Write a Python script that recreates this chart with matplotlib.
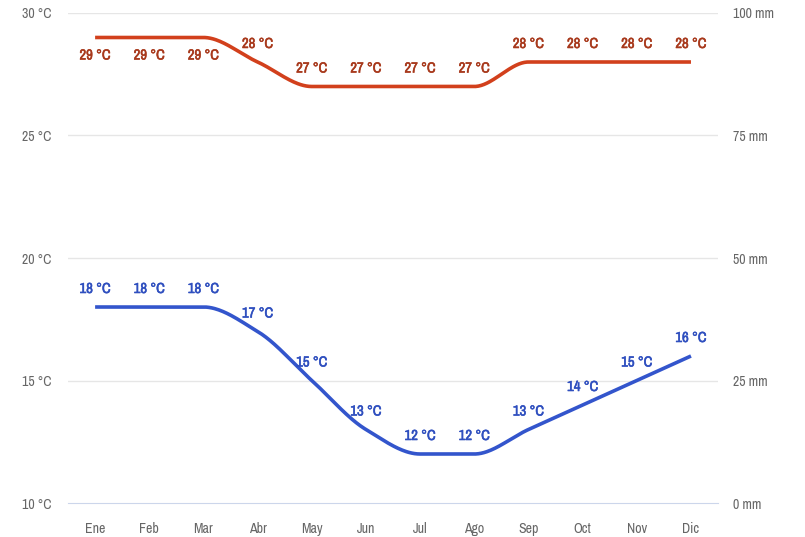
import matplotlib.pyplot as plt
import matplotlib.patheffects as pe
import numpy as np
from matplotlib import font_manager

months = ['Ene', 'Feb', 'Mar', 'Abr', 'May', 'Jun', 'Jul', 'Ago', 'Sep', 'Oct', 'Nov', 'Dic']
t_max = [29, 29, 29, 28, 27, 27, 27, 27, 28, 28, 28, 28]
t_min = [18, 18, 18, 17, 15, 13, 12, 12, 13, 14, 15, 16]
temp_ticks = [10, 15, 20, 25, 30]
rain_ticks = [0, 25, 50, 75, 100]

names = sorted({f.name for f in font_manager.fontManager.ttflist})
narrow = [n for n in names if 'Narrow' in n or 'Condensed' in n]
fam = narrow[0] if narrow else 'DejaVu Sans'
plt.rcParams['font.family'] = [fam, 'DejaVu Sans']
plt.rcParams['font.stretch'] = 'condensed'


def pchip(x, y, n=40):
    # monotone cubic curve through the points (Fritsch-Carlson)
    x = np.asarray(x, float)
    y = np.asarray(y, float)
    h = np.diff(x)
    d = np.diff(y) / h
    m = np.zeros_like(y)
    m[0], m[-1] = d[0], d[-1]
    for k in range(1, len(y) - 1):
        if d[k - 1] * d[k] > 0:
            w1 = 2 * h[k] + h[k - 1]
            w2 = h[k] + 2 * h[k - 1]
            m[k] = (w1 + w2) / (w1 / d[k - 1] + w2 / d[k])
    xs, ys = [], []
    for k in range(len(x) - 1):
        t = np.linspace(0, 1, n)
        h00 = 2 * t**3 - 3 * t**2 + 1
        h10 = t**3 - 2 * t**2 + t
        h01 = -2 * t**3 + 3 * t**2
        h11 = t**3 - t**2
        xs.append(x[k] + t * h[k])
        ys.append(h00 * y[k] + h10 * h[k] * m[k] + h01 * y[k + 1] + h11 * h[k] * m[k + 1])
    return np.concatenate(xs), np.concatenate(ys)


fig = plt.figure(figsize=(8.05, 5.37), dpi=100)
ax = fig.add_axes([0.0845, 0.0633, 0.8075, 0.9125])

x = np.arange(len(months))
red_line, red_text = '#d2401c', '#a8391c'
blue_line, blue_text = '#3355cc', '#2f4fbf'

xs, ys = pchip(x, t_max)
ax.plot(xs, ys, color=red_line, lw=2.6, solid_capstyle='butt', zorder=3)
xs, ys = pchip(x, t_min)
ax.plot(xs, ys, color=blue_line, lw=2.6, solid_capstyle='butt', zorder=3)

# the narrow font has no bold face, so thicken the glyphs a little
for i, v in enumerate(t_max):
    off = -18 if i < 3 else 18
    ax.annotate(f'{v} °C', (x[i], v), xytext=(0, off), textcoords='offset pixels',
                ha='center', va='center', color=red_text, fontsize=10.5,
                path_effects=[pe.withStroke(linewidth=0.4, foreground=red_text)])
for i, v in enumerate(t_min):
    ax.annotate(f'{v} °C', (x[i], v), xytext=(0, 18), textcoords='offset pixels',
                ha='center', va='center', color=blue_text, fontsize=10.5,
                path_effects=[pe.withStroke(linewidth=0.4, foreground=blue_text)])

ax.set_xlim(-0.5, 11.5)
ax.set_ylim(10, 30)
ax.set_xticks(x)
ax.set_xticklabels(months)
ax.set_yticks(temp_ticks)
ax.set_yticklabels([f'{t} °C' for t in temp_ticks])
for t in temp_ticks[1:]:
    ax.axhline(t, color='#e6e6e6', lw=1, zorder=1)

for s in ['top', 'right', 'left']:
    ax.spines[s].set_visible(False)
ax.spines['bottom'].set_color('#ccd6eb')
ax.tick_params(axis='both', length=0, colors='#666666', labelsize=10)
ax.tick_params(axis='x', pad=14)
ax.tick_params(axis='y', pad=12)

ax2 = ax.twinx()
ax2.set_ylim(0, 100)
ax2.set_yticks(rain_ticks)
ax2.set_yticklabels([f'{r} mm' for r in rain_ticks])
for s in ax2.spines.values():
    s.set_visible(False)
ax2.tick_params(axis='y', length=0, colors='#666666', labelsize=10, pad=11)

fig.savefig('out.png', dpi=100)
